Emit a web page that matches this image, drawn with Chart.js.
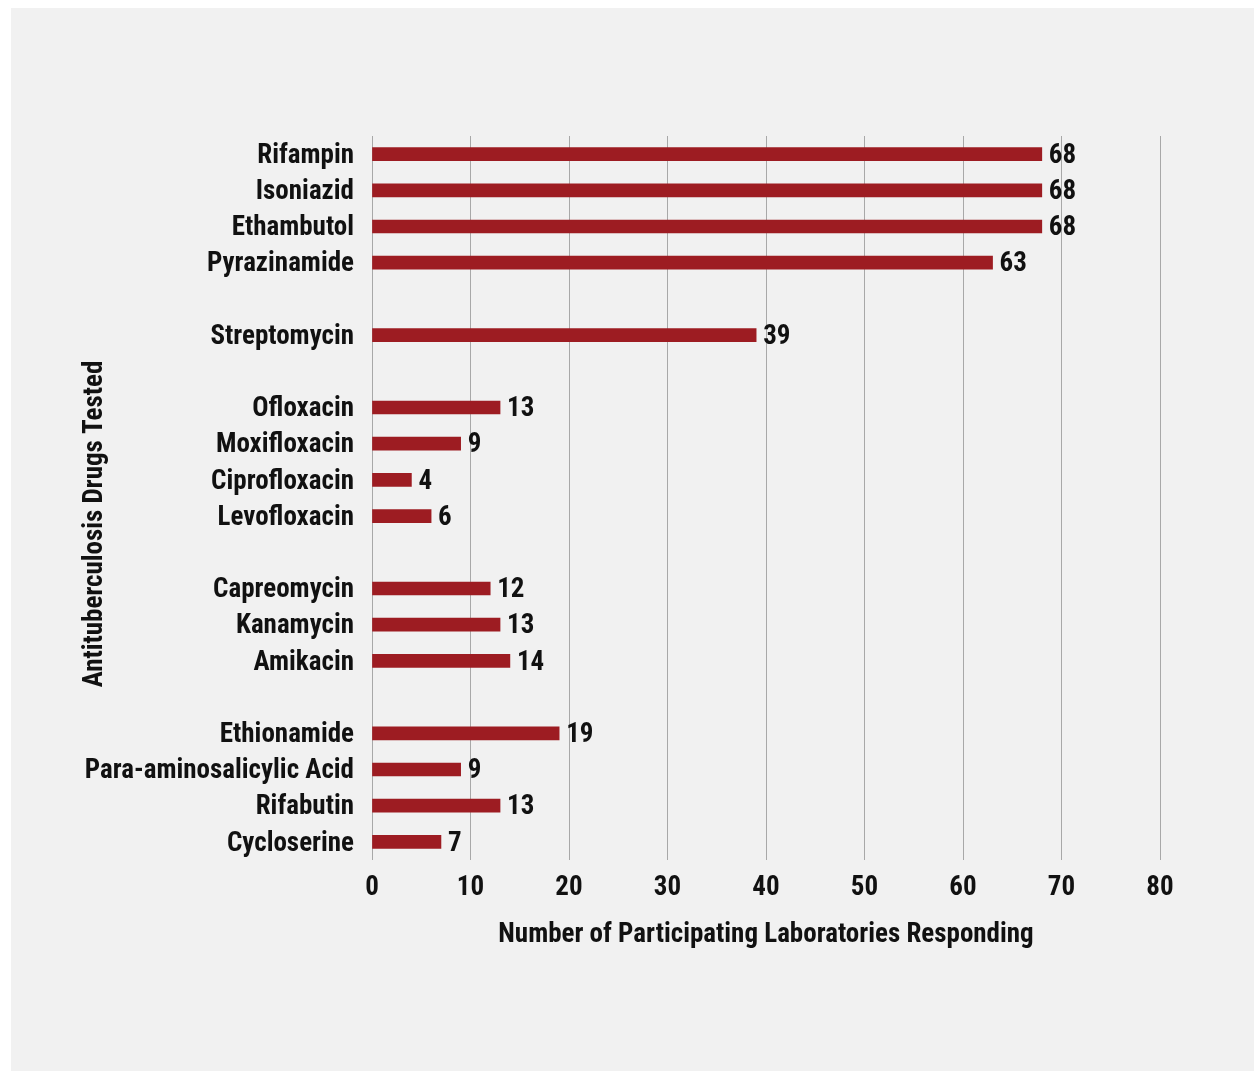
<!DOCTYPE html>
<html>
<head>
<meta charset="utf-8">
<script src="https://cdn.jsdelivr.net/npm/chart.js@4"></script>
<style>
  html, body { margin: 0; padding: 0; background: #fff; }
  #panel {
    position: absolute;
    left: 11px;
    top: 8px;
    width: 1243px;
    height: 1063px;
    background: #f1f1f1;
  }
</style>
</head>
<body>
<div id="panel"><canvas id="drug-chart" width="1243" height="1063"></canvas></div>
<script>
// empty strings are the gaps between drug groups
const drugLabels = [
  "Rifampin", "Isoniazid", "Ethambutol", "Pyrazinamide",
  "",
  "Streptomycin",
  "",
  "Ofloxacin", "Moxifloxacin", "Ciprofloxacin", "Levofloxacin",
  "",
  "Capreomycin", "Kanamycin", "Amikacin",
  "",
  "Ethionamide", "Para-aminosalicylic Acid", "Rifabutin", "Cycloserine",
];
const labCounts = [
  68, 68, 68, 63,
  null,
  39,
  null,
  13, 9, 4, 6,
  null,
  12, 13, 14,
  null,
  19, 9, 13, 7,
];
const xTicks = [0, 10, 20, 30, 40, 50, 60, 70, 80];

const fontFamily = "'Roboto Condensed', 'Open Sans Condensed', 'DejaVu Sans Condensed', sans-serif";
const fontSize = 27;
Chart.defaults.font.family = fontFamily;
Chart.defaults.font.weight = "bold";
Chart.defaults.font.size = fontSize;
Chart.defaults.color = "#111";

// value written just right of each bar
const valueLabels = {
  id: "valueLabels",
  afterDatasetsDraw(chart) {
    const ctx = chart.ctx;
    const meta = chart.getDatasetMeta(0);
    ctx.save();
    ctx.font = "bold " + fontSize + "px " + fontFamily;
    ctx.fillStyle = "#111";
    ctx.textAlign = "left";
    ctx.textBaseline = "middle";
    meta.data.forEach((bar, i) => {
      const v = labCounts[i];
      if (v === null) return;
      ctx.fillText(String(v), bar.x + 7, bar.y + 2);
    });
    ctx.restore();
  },
};

// y title sits over the long labels' column, so draw it by hand
const yTitle = {
  id: "yTitle",
  afterDraw(chart) {
    const ctx = chart.ctx;
    const area = chart.chartArea;
    ctx.save();
    ctx.font = "bold " + fontSize + "px " + fontFamily;
    ctx.fillStyle = "#111";
    ctx.textAlign = "center";
    ctx.textBaseline = "middle";
    ctx.translate(area.left - 277, (area.top + area.bottom) / 2 + 26);
    ctx.rotate(-Math.PI / 2);
    ctx.fillText("Antituberculosis Drugs Tested", 0, 0);
    ctx.restore();
  },
};

new Chart(document.getElementById("drug-chart").getContext("2d"), {
  type: "bar",
  data: {
    labels: drugLabels,
    datasets: [
      {
        data: labCounts,
        backgroundColor: "#9d1c22",
        barThickness: 13,
      },
    ],
  },
  options: {
    indexAxis: "y",
    responsive: false,
    animation: false,
    layout: {
      padding: { left: 64, right: 94, top: 128, bottom: 118 },
    },
    scales: {
      x: {
        min: 0,
        max: 80,
        afterBuildTicks: (scale) => {
          scale.ticks = xTicks.map((v) => ({ value: v }));
        },
        afterFit: (scale) => {
          scale.height = 93;
        },
        grid: { color: "#a8a8a8", lineWidth: 1, drawTicks: false },
        border: { display: false },
        ticks: { padding: 12 },
        title: {
          display: true,
          text: "Number of Participating Laboratories Responding",
          padding: { top: 4, bottom: 2 },
        },
      },
      y: {
        afterFit: (scale) => {
          scale.width = 297;
        },
        grid: { display: false },
        border: { display: false },
        ticks: { autoSkip: false, padding: 10, labelOffset: 2 },
      },
    },
    plugins: {
      legend: { display: false },
      tooltip: { enabled: false },
    },
  },
  plugins: [valueLabels, yTitle],
});
</script>
</body>
</html>
